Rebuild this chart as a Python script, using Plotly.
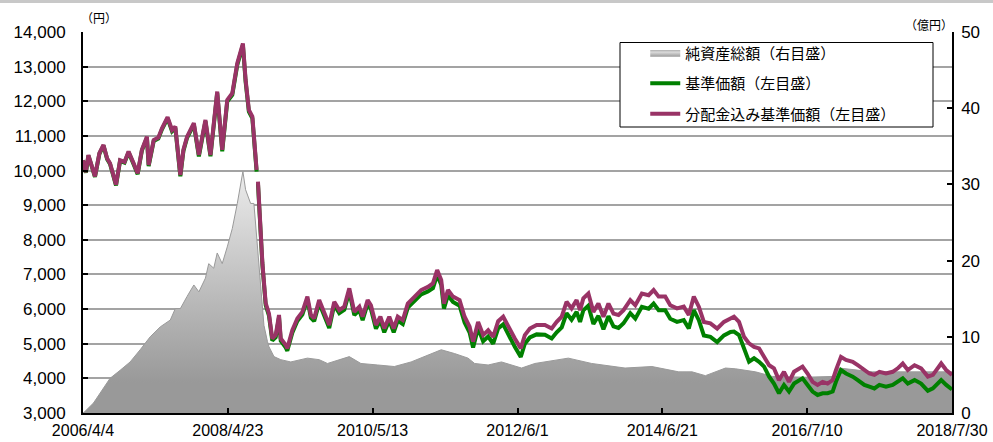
import plotly.graph_objects as go

# ---------------- data ----------------
price_dates = [
    "2006-04-04", "2006-04-19", "2006-05-02", "2006-05-19", "2006-06-05", "2006-06-28",
    "2006-07-19", "2006-08-07", "2006-08-22", "2006-09-22", "2006-10-13", "2006-11-05",
    "2006-11-26", "2006-12-22", "2007-01-12", "2007-02-03", "2007-03-01", "2007-03-10",
    "2007-04-05", "2007-04-29", "2007-05-18", "2007-06-16", "2007-07-09", "2007-07-26",
    "2007-08-21", "2007-09-06", "2007-09-25", "2007-10-30", "2007-11-25", "2007-12-29",
    "2008-01-24", "2008-02-28", "2008-03-25", "2008-04-20", "2008-05-16", "2008-06-11",
    "2008-07-10", "2008-07-24", "2008-08-10", "2008-08-28", "2008-09-05", "2008-09-19",
    "2008-09-22", "2008-09-26", "2008-10-05", "2008-10-19", "2008-11-05",
    "2008-11-22", "2008-12-09", "2008-12-27", "2009-01-13", "2009-01-22", "2009-02-17",
    "2009-02-25", "2009-03-23", "2009-04-18", "2009-05-14", "2009-06-09", "2009-06-27",
    "2009-07-14", "2009-08-09", "2009-09-04", "2009-09-30", "2009-10-26", "2009-11-21",
    "2009-12-17", "2010-01-12", "2010-02-07", "2010-03-05", "2010-03-22", "2010-04-17",
    "2010-05-04", "2010-05-30", "2010-06-22", "2010-07-12", "2010-08-07", "2010-08-30",
    "2010-09-20", "2010-10-16", "2010-11-11", "2010-12-15", "2011-01-19", "2011-02-23",
    "2011-03-21", "2011-04-12", "2011-05-03", "2011-05-17", "2011-06-07", "2011-07-03",
    "2011-08-06", "2011-09-01", "2011-09-27", "2011-10-15", "2011-11-10", "2011-12-06",
    "2012-01-01", "2012-01-27", "2012-02-22",
    "2012-03-19", "2012-04-14", "2012-05-18", "2012-06-18", "2012-07-09", "2012-08-04",
    "2012-09-08", "2012-10-21", "2012-11-25", "2012-12-21", "2013-01-16", "2013-02-10",
    "2013-03-08", "2013-04-03", "2013-04-21", "2013-05-08", "2013-06-03", "2013-06-29",
    "2013-07-25", "2013-08-20", "2013-09-15", "2013-10-11", "2013-11-06", "2013-12-02",
    "2014-01-06", "2014-02-01", "2014-03-07", "2014-04-11", "2014-05-07", "2014-06-02",
    "2014-07-06", "2014-08-01", "2014-09-05", "2014-10-10", "2014-11-05", "2014-12-01",
    "2014-12-27", "2015-01-22", "2015-02-25", "2015-04-01", "2015-05-06", "2015-06-09",
    "2015-06-27", "2015-07-23", "2015-08-18", "2015-09-13", "2015-10-09", "2015-11-04",
    "2015-11-30", "2015-12-26", "2016-01-20", "2016-02-15", "2016-03-12", "2016-04-07",
    "2016-05-03", "2016-06-16", "2016-07-12", "2016-08-07", "2016-09-02", "2016-09-28",
    "2016-10-24", "2016-11-19", "2016-12-06", "2017-01-01", "2017-01-27", "2017-03-03",
    "2017-03-29", "2017-05-02", "2017-05-28", "2017-06-23", "2017-07-19", "2017-08-22",
    "2017-09-26", "2017-10-22", "2017-11-17", "2017-12-13", "2018-01-17", "2018-02-20",
    "2018-03-27", "2018-04-22", "2018-06-04", "2018-06-30", "2018-07-30",
]

# 分配金込み基準価額 (円)
price_with_dist = [
    10300, 9950, 10450, 10150, 9830, 10500,
    10740, 10350, 10210, 9590, 10300, 10250,
    10550, 10210, 9920, 10600, 10980, 10160,
    10880, 10950, 11220, 11540, 11170, 11270,
    9870, 10600, 10980, 11370, 10450, 11460,
    10450, 12280, 10600, 12040, 12230, 13100,
    13670, 12620, 11750, 11560, 10880, 10020,
    None, 9680, 8670, 7330, 6170,
    5870, 5150, 5250, 5830, 5150, 4960,
    4865, 5390, 5730, 5920, 6360, 5830,
    5730, 6260, 5870, 5540, 6210, 5970,
    6070, 6600, 5920, 6070, 5780, 6260,
    6110, 5540, 5780, 5440, 5780, 5440,
    5780, 5680, 6160, 6360, 6550, 6640,
    6740, 7125, 6840, 6160, 6550, 6360,
    6260, 5780, 5490, 5060, 5630, 5250,
    5390, 5200, 5650,
    5780, 5490, 5150, 4865, 5250, 5440,
    5540, 5540, 5440, 5630, 5780, 6210,
    6020, 6260, 5970, 6310, 6450, 5920,
    6160, 5780, 6160, 5870, 5830, 5970,
    6260, 6110, 6450, 6400, 6550, 6360,
    6360, 6110, 6020, 6070, 5830, 6360,
    6070, 5630, 5590, 5440, 5630, 5730,
    5780, 5630, 5200, 5010, 4910, 4865,
    4620, 4380, 4290, 3950, 4190, 3900,
    4190, 4340, 4140, 3900, 3810, 3900,
    3850, 3950, 4240, 4620, 4530, 4480,
    4380, 4240, 4140, 4100, 4190, 4140,
    4190, 4290, 4430, 4240, 4380, 4290,
    4050, 4100, 4430, 4240, 4100,
]

# 基準価額 (円)
price_nav = [
    10290, 9935, 10435, 10135, 9815, 10485,
    10720, 10330, 10190, 9570, 10280, 10230,
    10525, 10185, 9895, 10575, 10950, 10130,
    10850, 10920, 11190, 11505, 11135, 11235,
    9835, 10565, 10945, 11330, 10410, 11420,
    10410, 12240, 10555, 11995, 12185, 13050,
    13620, 12570, 11700, 11510, 10830, 9970,
    None, 9630, 8620, 7280, 6115,
    5810, 5090, 5185, 5765, 5085, 4890,
    4795, 5320, 5655, 5845, 6280, 5750,
    5650, 6175, 5785, 5455, 6120, 5880,
    5980, 6505, 5825, 5970, 5680, 6160,
    6005, 5435, 5675, 5330, 5670, 5330,
    5665, 5565, 6040, 6240, 6425, 6510,
    6605, 6985, 6700, 6015, 6400, 6205,
    6100, 5615, 5320, 4890, 5455, 5070,
    5205, 5000, 5440,
    5560, 5260, 4910, 4620, 5000, 5180,
    5270, 5260, 5150, 5330, 5470, 5880,
    5690, 5920, 5630, 5965, 6100, 5570,
    5805, 5420, 5795, 5500, 5455, 5590,
    5880, 5725, 6065, 6010, 6160, 5970,
    5970, 5720, 5630, 5680, 5440, 5970,
    5680, 5240, 5200, 5050, 5240, 5340,
    5350, 5250, 4865, 4480, 4580, 4480,
    4340, 4050, 3850, 3570, 3810, 3620,
    3850, 4000, 3810, 3620, 3520, 3570,
    3570, 3620, 3900, 4240, 4140, 4050,
    3950, 3810, 3760, 3710, 3810, 3760,
    3810, 3900, 4000, 3850, 3950, 3850,
    3640, 3710, 3950, 3810, 3680,
]

# 純資産総額 (億円)
aum_dates = [
    "2006-04-04", "2006-04-14", "2006-05-28", "2006-07-10", "2006-08-22", "2006-10-13",
    "2006-12-04", "2007-01-25", "2007-03-18", "2007-05-09", "2007-06-30", "2007-07-26",
    "2007-08-21", "2007-09-25", "2007-10-30", "2007-11-25", "2007-12-29", "2008-01-15",
    "2008-02-10", "2008-02-28", "2008-03-25", "2008-04-20", "2008-05-16", "2008-06-11",
    "2008-07-10", "2008-07-24", "2008-08-19", "2008-09-05", "2008-09-22", "2008-10-10",
    "2008-10-27", "2008-11-14", "2008-11-22", "2008-12-18", "2009-01-22", "2009-03-15",
    "2009-06-09", "2009-08-09", "2009-09-21", "2010-01-12", "2010-03-13", "2010-06-08",
    "2010-09-02", "2010-11-28", "2011-02-23", "2011-05-03", "2011-07-11", "2011-09-19",
    "2011-10-23", "2012-01-01", "2012-03-10", "2012-06-22", "2012-08-30", "2013-02-19",
    "2013-06-20", "2013-12-10", "2014-04-28", "2014-09-14", "2014-11-22", "2015-01-30",
    "2015-05-14", "2015-07-05", "2015-10-17", "2016-01-12", "2016-07-03", "2016-11-19",
    "2016-12-23", "2017-06-14", "2017-12-04", "2018-07-30",
]
aum_values = [
    0.0, 0.2, 1.3, 3.0, 4.55, 5.6,
    6.7, 8.3, 10.0, 11.3, 12.2, 13.7,
    13.7, 15.3, 16.8, 15.9, 17.7, 19.6,
    19.0, 21.0, 19.6, 21.8, 24.2, 27.5,
    31.7, 29.3, 27.5, 27.5, 22.3, 17.5,
    11.5, 9.4, 8.7, 7.4, 7.0, 6.7,
    7.2, 7.0, 6.5, 7.4, 6.5, 6.3,
    6.1, 6.7, 7.6, 8.3, 7.8, 7.2,
    6.5, 6.3, 6.7, 5.9, 6.5, 7.2,
    6.5, 5.9, 6.1, 5.4, 5.4, 4.9,
    5.9, 5.8, 5.4, 4.8, 4.7, 4.8,
    5.9, 5.4, 5.4, 5.4,
]

x_tick_dates = ["2006-04-04", "2008-04-23", "2010-05-13", "2012-06-01",
                "2014-06-21", "2016-07-10", "2018-07-30"]
x_tick_labels = ["2006/4/4", "2008/4/23", "2010/5/13", "2012/6/1",
                 "2014/6/21", "2016/7/10", "2018/7/30"]

series_names = ["純資産総額（右目盛）", "基準価額（左目盛）", "分配金込み基準価額（左目盛）"]

# ---------------- figure ----------------
TICK_FONT = dict(family="Liberation Sans, Arial, sans-serif", size=17, color="black")
X_TICK_FONT = dict(family="Liberation Sans, Arial, sans-serif", size=16, color="black")
JP_FONT = "Noto Sans CJK JP"

fig = go.Figure()

fig.add_trace(go.Scatter(
    x=aum_dates, y=aum_values, name=series_names[0], yaxis="y",
    mode="lines", fill="tozeroy",
    line=dict(color="#9a9a9a", width=1),
    fillgradient=dict(type="vertical",
                      colorscale=[[0, "#999999"], [1, "#ededed"]],
                      start=4, stop=32),
    legendgroup="a", hoverinfo="skip",
))
fig.add_trace(go.Scatter(
    x=price_dates, y=price_nav, name=series_names[1], yaxis="y2",
    mode="lines", line=dict(color="#008000", width=4), connectgaps=False,
    legendgroup="b",
))
fig.add_trace(go.Scatter(
    x=price_dates, y=price_with_dist, name=series_names[2], yaxis="y2",
    mode="lines", line=dict(color="#993366", width=4), connectgaps=False,
    legendgroup="c",
))

fig.update_layout(
    width=993, height=442,
    margin=dict(l=83, r=41, t=32, b=29),
    paper_bgcolor="white", plot_bgcolor="white",
    showlegend=True,
    legend=dict(
        x=0.647, y=0.988, xanchor="left", yanchor="top",
        bgcolor="rgba(0,0,0,0)", borderwidth=0,
        font=dict(family=JP_FONT, size=15, color="black"),
        tracegroupgap=8, itemwidth=30, traceorder="grouped",
    ),
    xaxis=dict(
        type="date", range=["2006-04-04", "2018-07-30"],
        tickvals=x_tick_dates, ticktext=x_tick_labels,
        ticks="inside", ticklen=5, tickwidth=1.5, tickcolor="black",
        showline=True, linecolor="black", linewidth=2,
        showgrid=False, zeroline=False, tickfont=X_TICK_FONT,
        ticklabeloverflow="allow", ticklabelstandoff=2, automargin=False,
    ),
    # right axis (億円) - primary so the area is drawn beneath the lines
    yaxis=dict(
        side="right", range=[0, 50], dtick=10, tick0=0,
        ticks="inside", ticklen=5, tickwidth=1.5, tickcolor="black",
        showline=True, linecolor="black", linewidth=1.5,
        showgrid=False, zeroline=False, tickfont=TICK_FONT,
        ticklabelstandoff=4, automargin=False,
    ),
    # left axis (円)
    yaxis2=dict(
        overlaying="y", side="left", range=[3000, 14000], dtick=1000, tick0=3000,
        tickformat=",d",
        ticks="inside", ticklen=5, tickwidth=1.5, tickcolor="black",
        showline=True, linecolor="black", linewidth=2,
        showgrid=True, gridcolor="#a3a3a3", gridwidth=1.5,
        zeroline=False, tickfont=TICK_FONT, ticklabelstandoff=12, automargin=False,
    ),
    shapes=[
        # legend frame
        dict(type="rect", xref="paper", yref="paper",
             x0=(620 - 83) / 869, x1=(933 - 83) / 869,
             y0=(413 - 127) / 381, y1=(413 - 42.5) / 381,
             line=dict(color="black", width=1), fillcolor="white", layer="above"),
        # grey band at the very top of the image
        dict(type="rect", xref="paper", yref="paper",
             x0=-0.1, x1=1.06, y0=(413 - 3) / 381, y1=(413 + 2) / 381,
             line=dict(width=0), fillcolor="#c8c8c8", layer="above"),
    ],
    annotations=[
        dict(text="（円）", xref="paper", yref="paper",
             x=(99 - 83) / 869, y=(413 - 18) / 381,
             xanchor="center", yanchor="middle", showarrow=False,
             font=dict(family=JP_FONT, size=12, color="black")),
        dict(text="（億円）", xref="paper", yref="paper",
             x=(929 - 83) / 869, y=(413 - 25) / 381,
             xanchor="center", yanchor="middle", showarrow=False,
             font=dict(family=JP_FONT, size=12, color="black")),
    ],
)

fig.write_html("out.html", config={"displayModeBar": False},
               post_script="document.body.style.margin='0';document.body.style.overflow='hidden';")
